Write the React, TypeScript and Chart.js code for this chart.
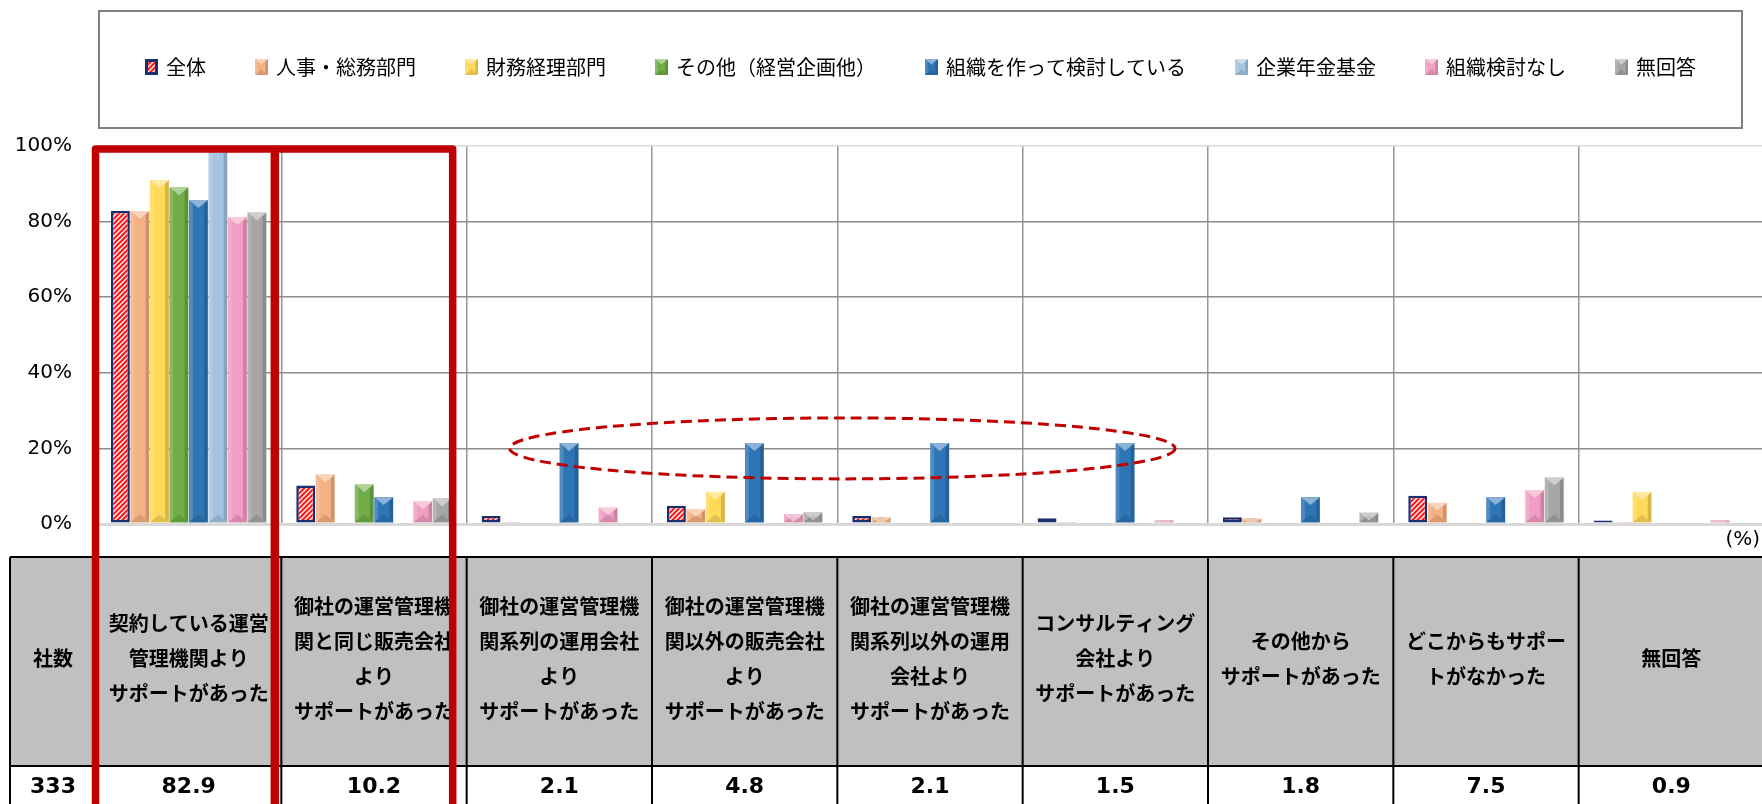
import { useEffect, useRef } from 'react';
import { Chart, registerables } from 'chart.js';

Chart.register(...registerables);

// Category headers (one entry per line of the table header cell)
const categories: string[][] = [
  ['契約している運営', '管理機関より', 'サポートがあった'],
  ['御社の運営管理機', '関と同じ販売会社', 'より', 'サポートがあった'],
  ['御社の運営管理機', '関系列の運用会社', 'より', 'サポートがあった'],
  ['御社の運営管理機', '関以外の販売会社', 'より', 'サポートがあった'],
  ['御社の運営管理機', '関系列以外の運用', '会社より', 'サポートがあった'],
  ['コンサルティング', '会社より', 'サポートがあった'],
  ['その他から', 'サポートがあった'],
  ['どこからもサポー', 'トがなかった'],
  ['無回答'],
];

const seriesNames = [
  '全体',
  '人事・総務部門',
  '財務経理部門',
  'その他（経営企画他）',
  '組織を作って検討している',
  '企業年金基金',
  '組織検討なし',
  '無回答',
];

// Percentages per category
const zentai = [82.9, 10.2, 2.1, 4.8, 2.1, 1.5, 1.8, 7.5, 0.9];
const jinjiSoumu = [82.8, 13.1, 0.5, 3.9, 1.8, 0.5, 1.5, 5.6, 0.5];
const zaimuKeiri = [91.0, 0, 0, 8.5, 0, 0, 0, 0, 8.5];
const sonotaKeiei = [89.1, 10.5, 0, 0, 0, 0, 0, 0, 0];
const soshikiKentou = [85.7, 7.1, 21.4, 21.4, 21.4, 21.4, 7.1, 7.1, 0];
const kigyouNenkin = [100, 0, 0, 0, 0, 0, 0, 0, 0];
const soshikiNashi = [81.2, 6.0, 4.4, 2.6, 0, 1.0, 0, 9.0, 1.0];
const mukaitou = [82.4, 6.8, 0, 3.1, 0, 0, 3.0, 12.3, 0];

const seriesColors = ['#ff0000', '#f4b183', '#ffd95a', '#70ad47', '#2e75b6', '#a5c4e1', '#f19ec2', '#a6a6a6'];

const yTicks = [0, 20, 40, 60, 80, 100];
const countHeader = '社数';
const companyCount = '333';
const unitLabel = '(%)';

const CANVAS_W = 1764;
const CANVAS_H = 804;
const JP_FONT = '"Noto Sans CJK JP", "Noto Sans", sans-serif';
const NUM_FONT = '"DejaVu Sans", Verdana, sans-serif';
const RED = '#c00000';
const NAVY = '#1b2f6e';

function makeHatch(): CanvasPattern | string {
  const c = document.createElement('canvas');
  c.width = 5;
  c.height = 5;
  const g = c.getContext('2d');
  if (!g) return '#ff0000';
  g.fillStyle = '#ff1a1a';
  g.fillRect(0, 0, 5, 5);
  g.strokeStyle = '#ffffff';
  g.lineWidth = 1.3;
  g.beginPath();
  g.moveTo(-1, 6);
  g.lineTo(6, -1);
  g.moveTo(-1, 1);
  g.lineTo(1, -1);
  g.moveTo(4, 6);
  g.lineTo(6, 4);
  g.stroke();
  const p = g.createPattern(c, 'repeat');
  return p || '#ff0000';
}

// Bevel shading laid over a plain bar face
function bevel(ctx: CanvasRenderingContext2D, l: number, t: number, w: number, h: number) {
  if (h <= 0.3 || w <= 0) return;
  const r = l + w;
  const b = t + h;
  const cx = l + w / 2;
  const s = w * 0.2;
  const tri = w * 0.42;
  ctx.save();
  ctx.beginPath();
  ctx.rect(l, t, w, h);
  ctx.clip();
  ctx.fillStyle = 'rgba(255,255,255,0.16)';
  ctx.beginPath();
  ctx.moveTo(l, t);
  ctx.lineTo(l + s, t + s);
  ctx.lineTo(l + s, b - s);
  ctx.lineTo(l, b);
  ctx.closePath();
  ctx.fill();
  ctx.fillStyle = 'rgba(0,0,0,0.16)';
  ctx.beginPath();
  ctx.moveTo(r, t);
  ctx.lineTo(r - s, t + s);
  ctx.lineTo(r - s, b - s);
  ctx.lineTo(r, b);
  ctx.closePath();
  ctx.fill();
  ctx.fillStyle = 'rgba(0,0,0,0.12)';
  ctx.beginPath();
  ctx.moveTo(l, b);
  ctx.lineTo(r, b);
  ctx.lineTo(cx, b - tri);
  ctx.closePath();
  ctx.fill();
  ctx.fillStyle = 'rgba(255,255,255,0.45)';
  ctx.beginPath();
  ctx.moveTo(l, t);
  ctx.lineTo(r, t);
  ctx.lineTo(cx, t + tri);
  ctx.closePath();
  ctx.fill();
  ctx.restore();
}

const decorPlugin = {
  id: 'decor',
  afterDatasetsDraw(chart: any) {
    const ctx: CanvasRenderingContext2D = chart.ctx;
    chart.data.datasets.forEach((_ds: any, di: number) => {
      if (di === 0) return;
      const meta = chart.getDatasetMeta(di);
      meta.data.forEach((el: any) => {
        const { x, y, base, width } = el.getProps(['x', 'y', 'base', 'width'], true);
        bevel(ctx, x - width / 2, Math.min(y, base), width, Math.abs(base - y));
      });
    });
  },
  afterDraw(chart: any) {
    const ctx: CanvasRenderingContext2D = chart.ctx;
    const xs = chart.scales.x;
    const ys = chart.scales.y;
    const area = chart.chartArea;
    const n = chart.data.labels.length;
    const half = (xs.getPixelForValue(1) - xs.getPixelForValue(0)) / 2;
    const bounds: number[] = [];
    for (let i = 0; i <= n; i++) {
      bounds.push(i < n ? xs.getPixelForValue(i) - half : xs.getPixelForValue(n - 1) + half);
    }

    ctx.save();

    // Legend frame and entries
    const boxL = 99, boxT = 11, boxR = 1742, boxB = 128;
    ctx.strokeStyle = '#808080';
    ctx.lineWidth = 2;
    ctx.strokeRect(boxL, boxT, boxR - boxL, boxB - boxT);
    ctx.font = `20px ${JP_FONT}`;
    ctx.textBaseline = 'middle';
    ctx.textAlign = 'left';
    const mw = 13, mh = 16, tg = 8, gap = 49;
    const labels: string[] = chart.data.datasets.map((d: any) => d.label);
    const widths = labels.map((t) => ctx.measureText(t).width);
    const total = widths.reduce((a, w) => a + mw + tg + w, 0) + gap * (labels.length - 1);
    let lx = (boxL + boxR) / 2 - total / 2;
    const ly = 67;
    labels.forEach((t, i) => {
      const ds = chart.data.datasets[i];
      ctx.fillStyle = ds.backgroundColor;
      ctx.fillRect(lx, ly - mh / 2, mw, mh);
      if (i === 0) {
        ctx.strokeStyle = NAVY;
        ctx.lineWidth = 3;
        ctx.strokeRect(lx + 1.5, ly - mh / 2 + 1.5, mw - 3, mh - 3);
      } else {
        bevel(ctx, lx, ly - mh / 2, mw, mh);
      }
      ctx.fillStyle = '#000';
      ctx.fillText(t, lx + mw + tg, ly);
      lx += mw + tg + widths[i] + gap;
    });

    // Unit label
    ctx.font = `20px ${NUM_FONT}`;
    ctx.textAlign = 'right';
    ctx.fillStyle = '#000';
    ctx.fillText(unitLabel, 1760, 540);

    // Table under the plot
    const tL = 10, tT = 557, tM = 766, tB = CANVAS_H + 10;
    const firstCol = area.left;
    ctx.fillStyle = '#c0c0c0';
    ctx.fillRect(tL, tT, CANVAS_W - tL, tM - tT);
    ctx.fillStyle = '#ffffff';
    ctx.fillRect(tL, tM, CANVAS_W - tL, tB - tM);
    ctx.strokeStyle = '#000';
    ctx.lineWidth = 2;
    ctx.beginPath();
    ctx.moveTo(tL, tT);
    ctx.lineTo(CANVAS_W, tT);
    ctx.moveTo(tL, tM);
    ctx.lineTo(CANVAS_W, tM);
    [tL, ...bounds].forEach((bx) => {
      ctx.moveTo(bx, tT);
      ctx.lineTo(bx, tB);
    });
    ctx.stroke();

    const headCy = 658.5;
    const lineH = 35;
    const rowCy = 787;
    ctx.textAlign = 'center';
    ctx.textBaseline = 'middle';
    ctx.fillStyle = '#000';
    ctx.font = `bold 20px ${JP_FONT}`;
    ctx.fillText(countHeader, (tL + firstCol) / 2, headCy);
    chart.data.labels.forEach((lines: string[], i: number) => {
      const cx = (bounds[i] + bounds[i + 1]) / 2;
      const y0 = headCy - ((lines.length - 1) * lineH) / 2;
      lines.forEach((ln, k) => ctx.fillText(ln, cx, y0 + k * lineH));
    });
    ctx.font = `bold 22px ${NUM_FONT}`;
    ctx.fillText(companyCount, (tL + firstCol) / 2, rowCy);
    zentai.forEach((v, i) => {
      ctx.fillText(v.toFixed(1), (bounds[i] + bounds[i + 1]) / 2, rowCy);
    });

    // Highlight frames around the first two categories
    ctx.strokeStyle = RED;
    ctx.lineWidth = 7.5;
    ctx.lineJoin = 'round';
    const frameTop = 149;
    const frameBottom = CANVAS_H + 30;
    ctx.beginPath();
    ctx.rect(bounds[0] - 0.5, frameTop, bounds[1] - 7 - (bounds[0] - 0.5), frameBottom - frameTop);
    ctx.stroke();
    ctx.beginPath();
    ctx.rect(bounds[1] - 6, frameTop, bounds[2] - 14 - (bounds[1] - 6), frameBottom - frameTop);
    ctx.stroke();

    // Dashed ellipse around the 20% group
    const ecx = bounds[4] + 5;
    const ecy = ys.getPixelForValue(20);
    ctx.lineWidth = 3;
    ctx.setLineDash([11, 6]);
    ctx.beginPath();
    ctx.ellipse(ecx, ecy, half * 2 * 1.795, 30.5, 0, 0, Math.PI * 2);
    ctx.stroke();
    ctx.setLineDash([]);

    ctx.restore();
  },
};

export default function App() {
  const ref = useRef<HTMLCanvasElement | null>(null);

  useEffect(() => {
    const canvas = ref.current;
    if (!canvas) return;
    const hatch = makeHatch();
    const seriesData = [zentai, jinjiSoumu, zaimuKeiri, sonotaKeiei, soshikiKentou, kigyouNenkin, soshikiNashi, mukaitou];
    const chart = new Chart(canvas, {
      type: 'bar',
      data: {
        labels: categories as any,
        datasets: seriesNames.map((name, i) => ({
          label: name,
          data: seriesData[i],
          backgroundColor: i === 0 ? (hatch as any) : seriesColors[i],
          borderColor: i === 0 ? NAVY : seriesColors[i],
          borderWidth: i === 0 ? 2.5 : 0,
          borderSkipped: false,
          categoryPercentage: 0.842,
          barPercentage: 0.97,
        })),
      },
      options: {
        responsive: false,
        maintainAspectRatio: false,
        animation: false,
        devicePixelRatio: 1,
        layout: { padding: { top: 146, bottom: CANVAS_H - 524, left: 0, right: 0 } },
        plugins: {
          legend: { display: false },
          tooltip: { enabled: false },
        },
        scales: {
          x: {
            ticks: { display: false },
            grid: { offset: true, color: '#969696', lineWidth: 1.5, drawTicks: false },
            border: { display: false },
            afterFit: (s: any) => {
              s.height = 0;
            },
          },
          y: {
            min: 0,
            max: 100,
            afterBuildTicks: (s: any) => {
              s.ticks = yTicks.map((v) => ({ value: v }));
            },
            ticks: {
              padding: 24,
              color: '#000',
              font: { family: NUM_FONT, size: 20 },
              callback: (v: any) => `${v}%`,
            },
            grid: {
              drawTicks: false,
              color: (c: any) => (c.tick && (c.tick.value === 0 || c.tick.value === 100) ? '#d9d9d9' : '#8c8c8c'),
              lineWidth: (c: any) => (c.tick && c.tick.value === 0 ? 3 : 1.5),
            },
            border: { display: false },
            afterFit: (s: any) => {
              s.width = 96;
            },
          },
        },
      } as any,
      plugins: [decorPlugin],
    });
    return () => chart.destroy();
  }, []);

  return (
    <div
      style={{
        position: 'fixed',
        left: 0,
        top: 0,
        width: 1762,
        height: CANVAS_H,
        overflow: 'hidden',
        background: '#ffffff',
      }}
    >
      <canvas
        ref={ref}
        width={CANVAS_W}
        height={CANVAS_H}
        style={{ width: CANVAS_W, height: CANVAS_H, display: 'block' }}
      />
    </div>
  );
}
